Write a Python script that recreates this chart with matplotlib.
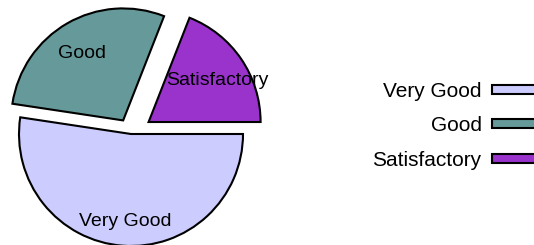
import matplotlib.pyplot as plt

plt.rcParams['font.family'] = ['Liberation Sans', 'DejaVu Sans']

# data
labels = ['Very Good', 'Good', 'Satisfactory']
values = [11, 6, 4]
colors = ['#ccccff', '#669999', '#9933cc']
explode = [0, 0.14, 0.19]

W, H = 534, 245
fig = plt.figure(figsize=(W / 100, H / 100), dpi=100)
ax = fig.add_axes([0, 0, 1, 1])

wedges, texts = ax.pie(values, labels=labels, colors=colors, explode=explode,
                       startangle=0, counterclock=False, labeldistance=0.74,
                       wedgeprops=dict(edgecolor='black', linewidth=1.5),
                       textprops=dict(ha='center', va='center', fontsize=14))

# pie centre at (131, 134) px from top-left, radius 112 px
r_px, cx, cy = 112, 131, 134
ax.set_xlim(-cx / r_px, (W - cx) / r_px)
ax.set_ylim(-(H - cy) / r_px, cy / r_px)
ax.set_aspect('auto')
ax.axis('off')

# labels sit a few pixels lower in the original
for t in texts:
    x, y = t.get_position()
    t.set_position((x, y - 5 / r_px))

fig.legend(wedges, labels, loc='center right', bbox_to_anchor=(1.019, 0.486),
           frameon=False, markerfirst=False, fontsize=15,
           handlelength=2.5, handleheight=0.28, handletextpad=0.5,
           labelspacing=0.74, borderpad=0, borderaxespad=0)

fig.savefig('out.png', dpi=100)
